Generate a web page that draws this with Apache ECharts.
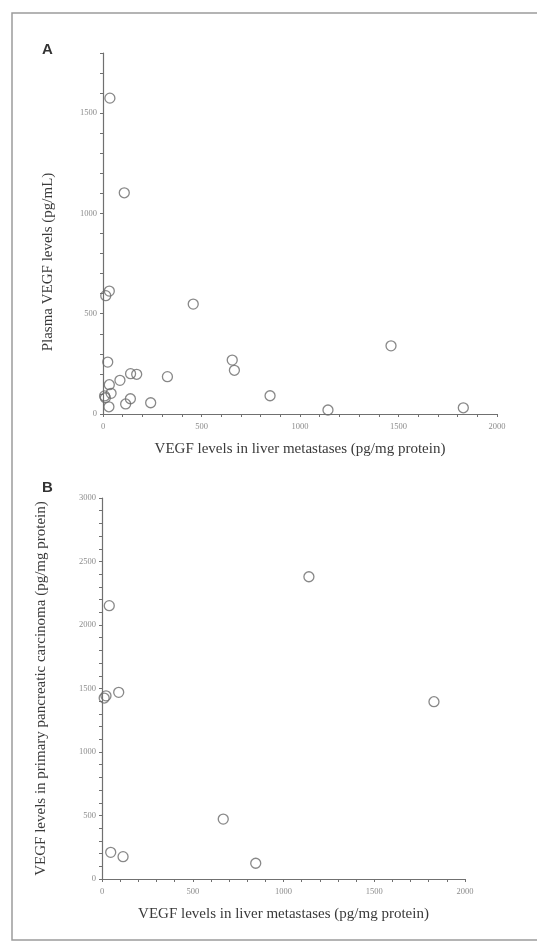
<!DOCTYPE html>
<html>
<head>
<meta charset="utf-8">
<script src="https://cdn.jsdelivr.net/npm/echarts@6/dist/echarts.min.js"></script>
<style>
html,body{margin:0;padding:0;background:#fff;}
#chart{width:537px;height:943px;}
</style>
</head>
<body>
<div id="chart"></div>
<script>
// Panel A: liver metastases VEGF (x) vs plasma VEGF (y)
const aLiver = [35,108,14,32,458,24,656,667,140,171,86,327,32,41,12,139,115,30,242,848,1142,1462,1829,8];
const aPlasma = [1575,1103,590,613,548,259,269,218,201,198,168,186,146,103,81,76,50,36,56,91,20,340,31,90];
// Panel B: liver metastases VEGF (x) vs primary pancreatic carcinoma VEGF (y)
const bLiver = [40,12,22,92,48,116,668,847,1140,1829];
const bPrimary = [2152,1425,1442,1470,210,176,472,124,2380,1396];

const xTitle = 'VEGF levels in liver metastases (pg/mg protein)';
const aYTitle = 'Plasma VEGF levels (pg/mL)';
const bYTitle = 'VEGF levels in primary pancreatic carcinoma (pg/mg protein)';

const serif = "'Liberation Serif', 'DejaVu Serif', serif";
const axisColor = '#707070';

function pairs(xs, ys){ return xs.map((x,i)=>[x, ys[i]]); }

function valAxis(idx, max, name, gap, isY){
  return {
    type: 'value', gridIndex: idx, min: 0, max: max, interval: 100,
    name: name, nameLocation: 'middle', nameGap: gap,
    nameTextStyle: {fontFamily: serif, fontSize: 15, color: '#3a3a3a'},
    axisLine: {show: true, onZero: false, lineStyle: {color: axisColor, width: 1.2}},
    axisTick: {show: true, length: 3, lineStyle: {color: axisColor, width: 1}},
    splitLine: {show: false},
    axisLabel: {
      fontFamily: serif, fontSize: 8.5, color: '#8c8c8c', margin: isY ? 6 : 8,
      formatter: v => (v % 500 === 0 ? String(v) : '')
    }
  };
}

const markerStyle = {color: 'rgba(0,0,0,0)', borderColor: '#6a6a6a', borderWidth: 1.3};

const chart = echarts.init(document.getElementById('chart'), null, {renderer: 'canvas'});
chart.setOption({
  animation: false,
  backgroundColor: '#fff',
  graphic: [
    {type: 'rect', shape: {x: 12, y: 13, width: 560, height: 927},
     style: {fill: 'none', stroke: '#9c9c9c', lineWidth: 1.5}},
    {type: 'text', left: 42, top: 42, style: {text: 'A', font: "bold 15px 'Liberation Sans', Arial, sans-serif", fill: '#333'}},
    {type: 'text', left: 42, top: 480, style: {text: 'B', font: "bold 15px 'Liberation Sans', Arial, sans-serif", fill: '#333'}},
    {type: 'text', x: 48, y: 262, rotation: Math.PI / 2,
     style: {text: aYTitle, font: "15px 'Liberation Serif', 'DejaVu Serif', serif", fill: '#3a3a3a',
             align: 'center', verticalAlign: 'middle'}}
  ],
  grid: [
    {left: 103, top: 53, width: 394, height: 361},
    {left: 102, top: 498, width: 363, height: 381}
  ],
  xAxis: [
    valAxis(0, 2000, xTitle, 28, false),
    valAxis(1, 2000, xTitle, 28, false)
  ],
  yAxis: [
    Object.assign(valAxis(0, 1800, '', 50, true), {name: ''}),
    valAxis(1, 3000, bYTitle, 53, true)
  ],
  series: [
    {type: 'scatter', xAxisIndex: 0, yAxisIndex: 0, data: pairs(aLiver, aPlasma),
     symbol: 'circle', symbolSize: 10, itemStyle: markerStyle},
    {type: 'scatter', xAxisIndex: 1, yAxisIndex: 1, data: pairs(bLiver, bPrimary),
     symbol: 'circle', symbolSize: 10, itemStyle: markerStyle}
  ]
});
</script>
</body>
</html>
